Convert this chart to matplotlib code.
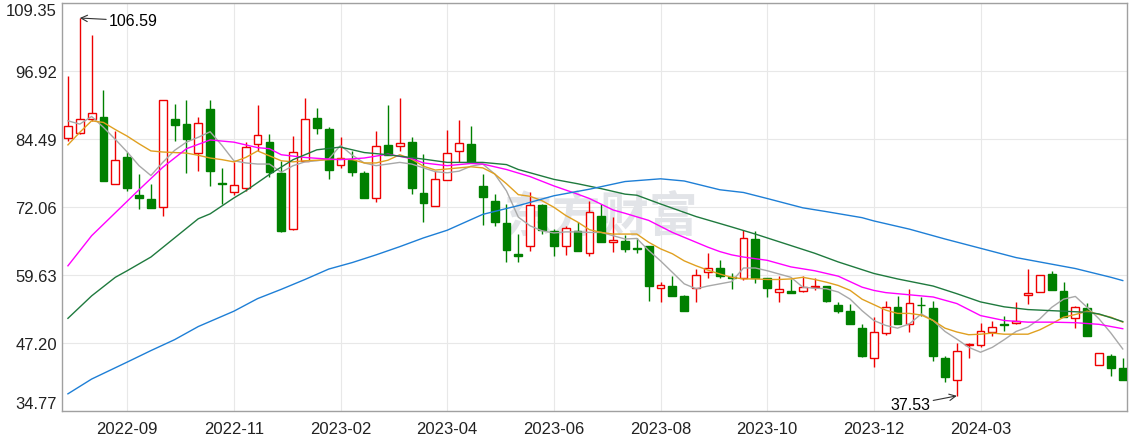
import matplotlib
matplotlib.use("Agg")
import matplotlib.pyplot as plt
import numpy as np

plt.rcParams["font.family"] = ["Liberation Sans", "Noto Sans CJK SC", "DejaVu Sans"]

# weekly candles (open, high, low, close)
opens = [84.62, 85.53, 88.14, 88.51, 76.20, 81.20, 74.25, 73.46, 72.00, 88.14,
         87.23, 81.87, 89.97, 76.45, 74.86, 75.47, 83.58, 83.88, 78.27, 68.04,
         80.53, 88.27, 86.32, 79.80, 80.65, 78.27, 73.64, 83.39, 83.27, 84.00,
         74.62, 72.30, 77.05, 82.24, 83.58, 75.84, 73.10, 69.13, 63.47, 64.87,
         72.42, 67.61, 64.87, 67.73, 63.60, 70.36, 65.61, 65.79, 64.56, 64.87,
         57.20, 57.56, 55.74, 57.20, 60.18, 60.96, 59.20, 59.10, 66.21, 59.10,
         56.47, 56.65, 56.65, 57.50, 57.56, 54.15, 53.05, 49.89, 44.40, 49.08,
         53.73, 50.67, 54.15, 53.54, 44.40, 40.49, 46.85, 46.89, 49.15, 50.68,
         50.91, 56.03, 56.58, 59.81, 56.65, 51.77, 53.60, 43.18, 44.77, 42.57]
highs = [96.06, 106.59, 103.56, 93.45, 86.01, 82.05, 78.03, 76.26, 91.56, 90.89,
         91.56, 88.45, 91.56, 79.13, 80.23, 83.88, 90.64, 85.40, 80.53, 85.10,
         91.93, 90.16, 86.63, 84.79, 82.24, 78.70, 86.01, 90.70, 91.93, 84.79,
         81.75, 78.70, 86.19, 87.96, 86.92, 78.09, 74.44, 72.61, 67.12, 74.86,
         72.61, 68.04, 68.64, 69.26, 73.21, 72.61, 70.18, 66.94, 66.34, 64.87,
         58.29, 59.50, 56.03, 60.73, 63.65, 62.37, 59.94, 67.91, 67.61, 59.10,
         59.39, 58.90, 59.50, 59.03, 57.56, 54.64, 54.33, 50.67, 51.89, 54.93,
         55.74, 57.07, 55.55, 54.93, 44.88, 47.14, 47.14, 50.86, 51.17, 52.19,
         54.64, 60.73, 59.68, 60.31, 58.29, 54.02, 54.46, 45.37, 45.19, 44.40]
lows = [84.07, 85.40, 87.84, 76.87, 76.20, 75.05, 71.69, 71.94, 70.36, 84.07,
        78.27, 78.64, 75.96, 72.61, 74.25, 75.05, 82.36, 77.48, 67.55, 67.90,
        80.53, 85.40, 77.18, 79.19, 77.66, 73.64, 72.91, 81.63, 82.36, 74.44,
        69.26, 72.20, 77.05, 80.34, 80.23, 68.77, 68.64, 62.06, 62.06, 64.07,
        67.12, 63.16, 63.29, 64.07, 63.16, 65.61, 63.89, 63.89, 63.65, 54.93,
        54.75, 55.85, 52.99, 54.64, 59.03, 59.03, 57.07, 58.77, 58.11, 55.55,
        54.64, 56.30, 56.47, 56.90, 54.75, 52.63, 50.67, 44.59, 42.75, 48.66,
        50.67, 49.15, 52.19, 43.96, 40.02, 37.53, 44.40, 46.52, 48.53, 49.45,
        50.67, 54.33, 56.58, 56.94, 51.89, 49.94, 48.42, 43.18, 41.22, 40.49]
closes = [86.81, 88.09, 89.30, 76.87, 80.59, 75.59, 73.76, 71.94, 91.56, 87.11,
          84.55, 87.35, 78.70, 76.20, 76.14, 83.09, 85.28, 78.39, 67.73, 82.17,
          88.09, 86.44, 78.88, 81.02, 78.39, 73.64, 83.15, 81.63, 83.76, 75.47,
          72.73, 77.18, 81.87, 83.76, 80.23, 73.95, 69.37, 64.26, 63.05, 72.48,
          67.85, 64.99, 68.16, 64.07, 71.09, 65.61, 65.97, 64.38, 64.44, 57.67,
          57.75, 55.85, 52.99, 59.68, 60.85, 59.50, 59.10, 66.34, 59.10, 57.20,
          57.02, 56.41, 57.38, 57.60, 54.93, 53.05, 50.67, 44.88, 49.15, 53.84,
          50.67, 54.46, 54.05, 44.88, 40.93, 45.68, 46.95, 49.45, 50.18, 50.56,
          51.28, 56.28, 59.68, 56.94, 51.89, 53.73, 48.42, 45.37, 42.57, 40.49]

# moving averages (candle index -> value)
ma5_vals = [87.8, 87.2, 88.6, 86.6, 84.4, 82.1, 79.6, 77.8, 80.2, 82.4,
            83.9, 84.8, 85.8, 83.3, 80.5, 80.1, 79.9, 79.9, 78.4, 79.6,
            80.3, 80.5, 80.8, 83.3, 81.5, 80.1, 79.6, 79.9, 80.2, 79.9,
            79.2, 78.5, 78.3, 78.6, 79.5, 79.9, 78.1, 75.0, 70.2, 68.6,
            67.7, 67.3, 67.5, 67.5, 67.4, 67.4, 66.8, 66.2, 66.3, 64.1,
            62.2, 60.1, 58.0, 57.1, 57.6, 58.0, 58.4, 60.9, 60.9, 60.4,
            59.8, 59.2, 57.4, 57.2, 57.1, 56.5, 55.2, 53.1, 51.3, 50.4,
            49.9, 50.7, 52.5, 51.3, 49.3, 47.9, 46.4, 45.5, 46.4, 47.8,
            49.3, 50.1, 51.6, 53.7, 55.2, 55.7, 53.7, 51.6, 49.0, 46.1]
ma10_vals = [83.4, 85.7, 87.8, 87.5, 86.2, 85.0, 83.6, 82.3, 82.1, 82.0,
             81.9, 81.5, 81.0, 80.7, 80.3, 81.1, 82.3, 81.4, 80.5, 80.3,
             80.5, 80.6, 80.7, 80.8, 80.7, 80.1, 80.1, 80.6, 81.6, 80.8,
             79.5, 78.8, 79.0, 79.2, 79.4, 79.2, 78.1, 76.3, 74.3, 74.0,
             73.2, 72.0, 70.5, 69.3, 67.9, 67.4, 67.1, 67.1, 67.1, 65.6,
             64.4, 63.5, 62.2, 61.3, 60.5, 59.8, 59.2, 58.9, 58.9, 58.8,
             58.8, 58.9, 59.2, 58.8, 58.3, 57.7, 56.8, 55.2, 54.2, 53.2,
             52.6, 52.6, 52.3, 51.3, 49.9, 49.2, 48.7, 48.8, 49.0, 48.8,
             48.8, 48.8, 49.6, 50.7, 51.9, 52.4, 53.0, 52.4, 51.9, 51.0]
ma20_idx = [0, 2, 4, 6, 8, 10, 12, 14, 16, 17, 18, 20, 22, 23, 25, 27, 29, 30,
            32, 34, 35, 37, 39, 41, 43, 44, 46, 47, 49, 50, 51, 52, 53, 54, 55,
            56, 57, 59, 61, 63, 65, 66, 67, 68, 69, 70, 72, 73, 75, 77, 79, 81,
            83, 85, 87, 89]
ma20_vals = [61.3, 66.8, 71.0, 75.2, 79.3, 82.7, 84.3, 83.9, 82.9, 82.7, 81.6,
             81.1, 80.8, 80.7, 81.0, 81.7, 80.9, 80.1, 79.6, 80.0, 79.9, 78.9,
             77.6, 75.9, 74.4, 73.6, 71.5, 70.9, 69.6, 68.5, 67.4, 66.5, 65.6,
             64.7, 63.9, 63.3, 62.9, 62.3, 61.1, 60.4, 59.4, 58.4, 57.4, 56.8,
             56.4, 56.2, 55.8, 55.6, 54.4, 52.2, 51.3, 51.0, 51.0, 50.9, 50.6,
             49.8]
ma30_idx = [0, 2, 4, 5, 7, 9, 11, 12, 14, 15, 17, 19, 21, 23, 25, 27, 30, 32,
            35, 37, 38, 41, 43, 45, 47, 48, 50, 53, 56, 58, 60, 63, 65, 68, 70,
            73, 75, 77, 79, 81, 84, 86, 87, 89]
ma30_vals = [51.7, 55.8, 59.2, 60.4, 62.9, 66.4, 69.9, 70.8, 73.7, 75.0, 78.0,
             80.7, 82.5, 83.0, 82.0, 81.6, 80.8, 80.2, 80.2, 79.8, 78.9, 77.1,
             76.3, 75.4, 74.4, 74.2, 72.6, 70.3, 68.4, 67.1, 65.7, 63.6, 62.0,
             59.9, 58.9, 57.6, 56.2, 54.7, 53.8, 53.3, 53.0, 52.8, 52.5, 51.1]
ma60_idx = [0, 2, 5, 7, 9, 11, 14, 16, 18, 20, 22, 24, 26, 28, 30, 32, 35, 38,
            41, 44, 47, 50, 52, 55, 57, 59, 62, 64, 67, 68, 71, 74, 77, 80, 82,
            85, 88, 89]
ma60_vals = [37.9, 40.6, 43.7, 45.8, 47.8, 50.2, 53.0, 55.3, 57.0, 58.8, 60.7,
             61.9, 63.3, 64.8, 66.4, 67.8, 70.7, 72.3, 74.1, 75.3, 76.7, 77.2,
             76.8, 75.2, 74.7, 73.6, 71.9, 71.2, 70.1, 69.5, 68.0, 66.2, 64.5,
             62.8, 62.0, 60.8, 59.2, 58.6]

tick_idx = [5, 14, 23, 32, 41, 50, 59, 68, 77]
tick_labels = ["2022-09", "2022-11", "2023-02", "2023-04", "2023-06",
               "2023-08", "2023-10", "2023-12", "2024-03"]
y_ticks = [34.77, 47.20, 59.63, 72.06, 84.49, 96.92, 109.35]

UP = "#ee0000"
DOWN = "#008000"

fig = plt.figure(figsize=(11.36, 4.35), dpi=100)
ax = fig.add_axes([0.055, 0.053, 0.937, 0.938])

x = np.arange(len(opens))
o = np.array(opens)
c = np.array(closes)
up = c >= o

# wicks
ax.vlines(x[up], np.array(lows)[up], np.array(highs)[up], color=UP, lw=1.0, zorder=2)
ax.vlines(x[~up], np.array(lows)[~up], np.array(highs)[~up], color=DOWN, lw=1.0, zorder=2)

# bodies
body = np.abs(c - o)
body = np.where(body < 0.12, 0.12, body)
bottom = np.minimum(o, c)
ax.bar(x[up], body[up], bottom=bottom[up], width=0.66, facecolor="white",
       edgecolor=UP, linewidth=1.0, zorder=3)
ax.bar(x[~up], body[~up], bottom=bottom[~up], width=0.66, facecolor=DOWN,
       edgecolor=DOWN, linewidth=1.0, zorder=3)

# moving averages
ax.plot(x, ma5_vals, color="#a8a8a8", lw=1.0, zorder=4)
ax.plot(x, ma10_vals, color="#e0a020", lw=1.0, zorder=4)
ax.plot(ma20_idx, ma20_vals, color="#ff00ff", lw=1.0, zorder=4)
ax.plot(ma30_idx, ma30_vals, color="#1f7a3e", lw=1.0, zorder=4)
ax.plot(ma60_idx, ma60_vals, color="#1e7fd6", lw=1.0, zorder=4)

# max / min markers
i_hi = int(np.argmax(highs))
i_lo = int(np.argmin(lows))
ax.annotate(f"{highs[i_hi]:.2f}", xy=(i_hi, highs[i_hi]), xytext=(21, -2),
            textcoords="offset points", ha="left", va="center", fontsize=11.5,
            arrowprops=dict(arrowstyle="->", color="#333333", lw=0.8,
                            shrinkA=0, shrinkB=0), zorder=6)
ax.annotate(f"{lows[i_lo]:.2f}", xy=(i_lo, lows[i_lo]), xytext=(-19, -6.5),
            textcoords="offset points", ha="right", va="center", fontsize=11.5,
            arrowprops=dict(arrowstyle="->", color="#333333", lw=0.8,
                            shrinkA=0, shrinkB=0), zorder=6)

# watermark
ax.text(0.505, 0.478, "东方财富", transform=ax.transAxes, ha="center", va="center",
        fontsize=35, color="#e2e4e8", family=["Noto Sans CJK SC"], zorder=1,
        fontweight="bold")

ax.set_xlim(-0.46, 89.35)
ax.set_ylim(y_ticks[0], y_ticks[-1])
ax.set_yticks(y_ticks)
ax.set_yticklabels([f"{v:.2f}" for v in y_ticks])
ax.set_xticks(tick_idx)
ax.set_xticklabels(tick_labels)
ax.tick_params(axis="both", length=0, labelsize=12, colors="#222222")
ax.tick_params(axis="y", pad=4)
ax.tick_params(axis="x", pad=7)
ylabels = ax.get_yticklabels()
ylabels[0].set_verticalalignment("bottom")
ylabels[-1].set_verticalalignment("top")
ax.grid(True, color="#e8e8e8", lw=0.8, zorder=0)
ax.set_axisbelow(True)
for s in ax.spines.values():
    s.set_color("#a0a0a0")
    s.set_linewidth(1.0)

fig.savefig("out.png", dpi=100)
